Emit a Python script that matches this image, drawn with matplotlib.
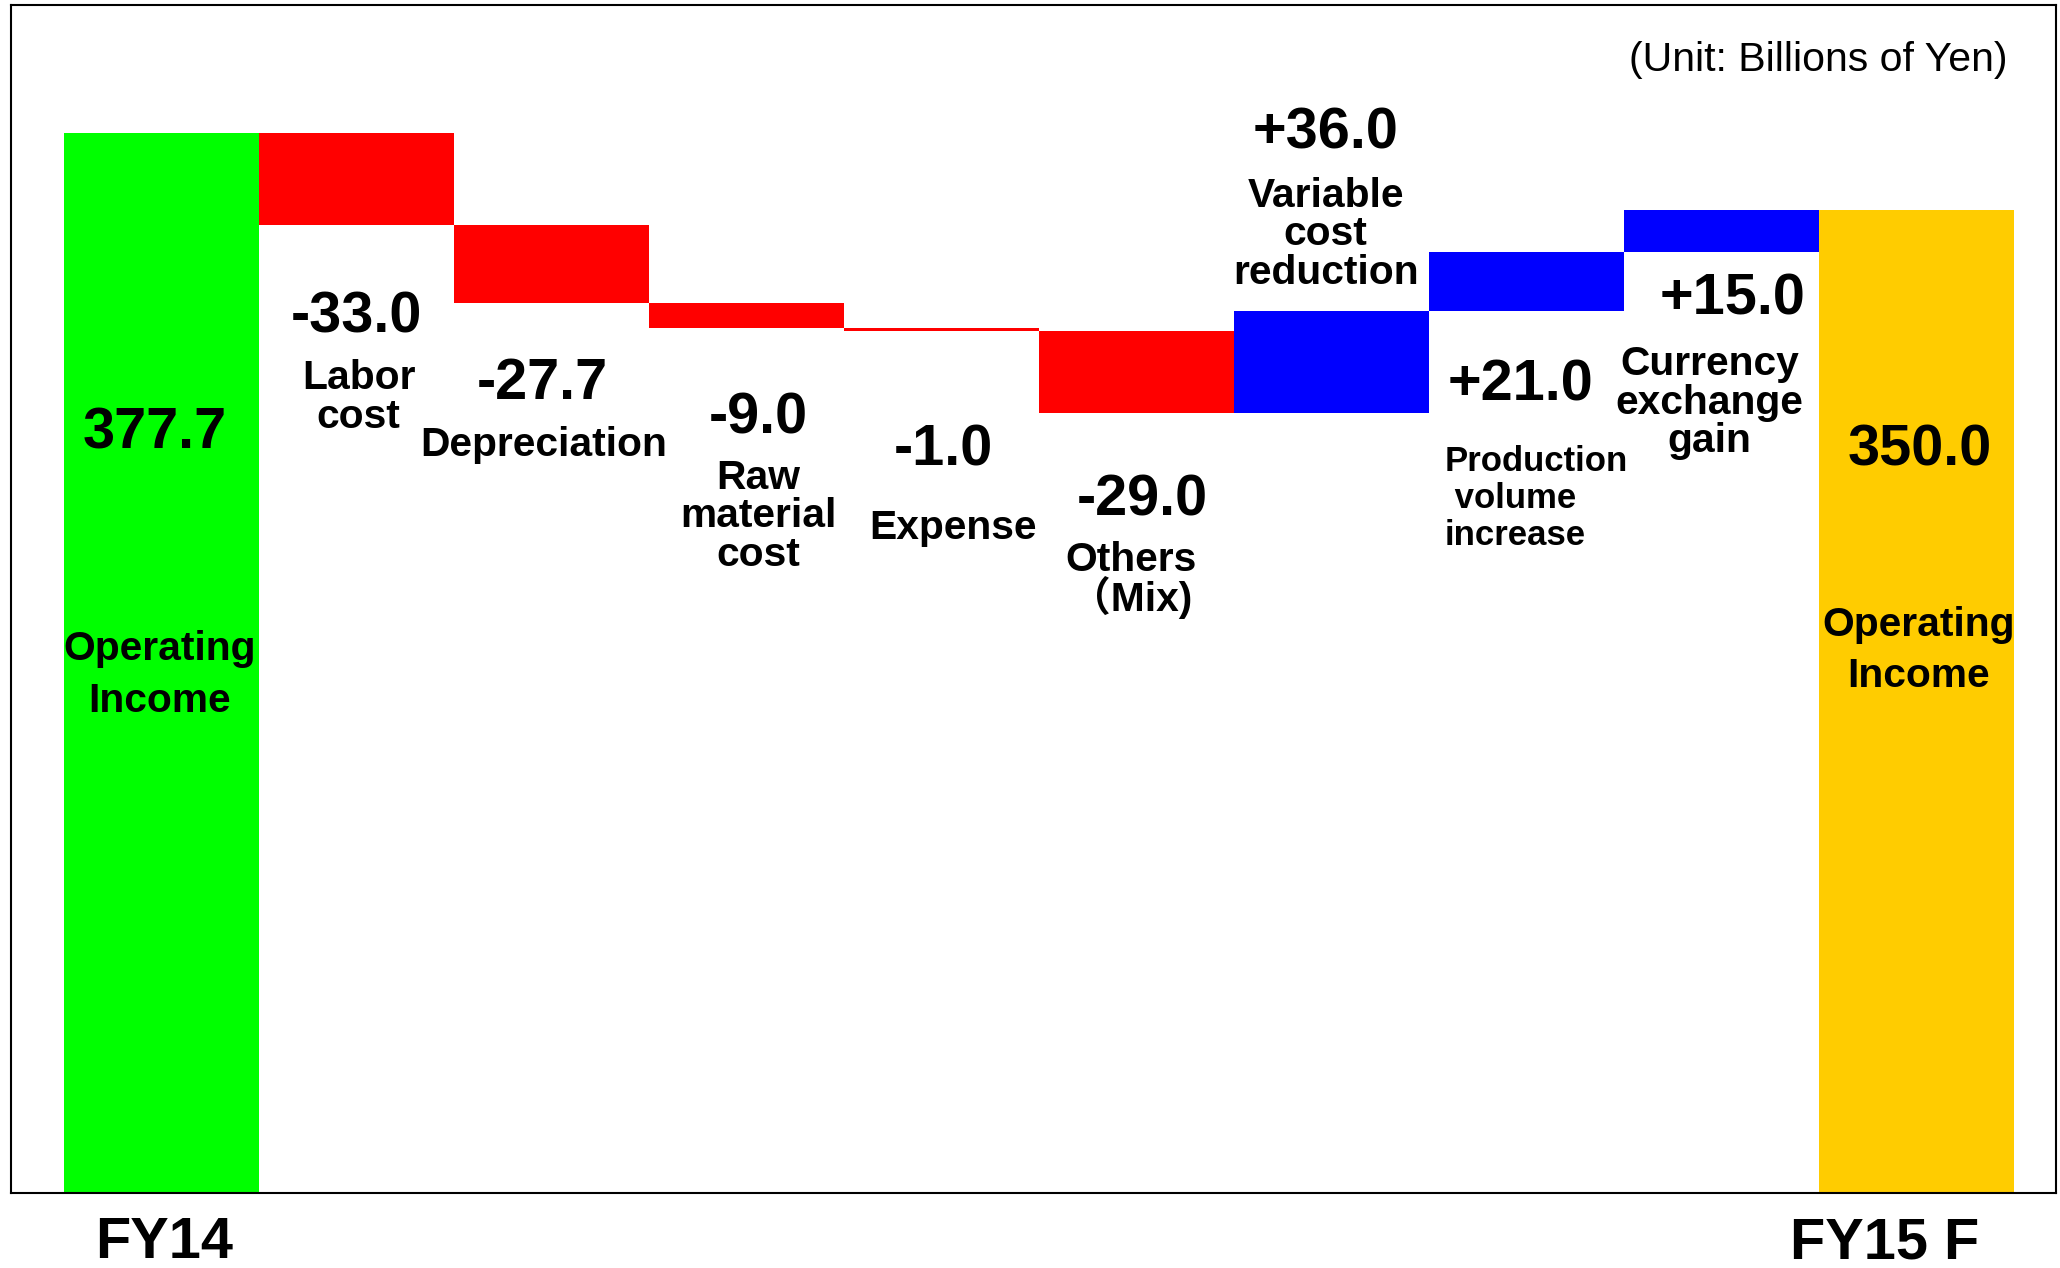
import matplotlib.pyplot as plt
import numpy as np

# Datos
start_label = "FY14"
end_label = "FY15 F"
start_value = 377.7
end_value = 350.0
items = ["Labor\ncost", "Depreciation", "Raw\nmaterial\ncost", "Expense", "Others\n\uff08Mix)",
         "Variable\ncost\nreduction", "Production\n volume\nincrease", "Currency\nexchange\ngain"]
changes = [-33.0, -27.7, -9.0, -1.0, -29.0, 36.0, 21.0, 15.0]

# Colores
c_start = '#00FF00'
c_end = '#FFCC00'
c_down = '#FF0000'
c_up = '#0000FF'

FONT = ['Liberation Sans', 'Noto Sans CJK JP', 'DejaVu Sans']
plt.rcParams['font.family'] = FONT

# Cálculo de la cascada
cum = start_value + np.cumsum(changes)
prev = np.concatenate([[start_value], cum[:-1]])
bottoms = np.minimum(prev, cum)
heights = np.abs(np.array(changes))
colors = [c_down if v < 0 else c_up for v in changes]

fig = plt.figure(figsize=(20.6, 12.68), dpi=100)
ax = fig.add_axes([0.0051, 0.059, 0.9929, 0.9368])

x = np.arange(len(changes) + 2)
ax.bar(x[0], start_value, width=1.0, color=c_start, linewidth=0)
ax.bar(x[1:-1], heights, bottom=bottoms, width=1.0, color=colors, linewidth=0)
ax.bar(x[-1], end_value, width=1.0, color=c_end, linewidth=0)

# Etiquetas de valores (posición: x, y del valor; x, y del nombre)
val_pos = [(1.0, 312.0), (1.95, 288.2), (3.06, 276.0), (4.01, 264.3), (5.03, 246.5),
           (5.97, 377.5), (6.97, 287.5), (8.06, 318.1)]
name_pos = [(1.01, 283.3), (1.96, 266.3), (3.06, 241.0), (4.06, 236.8), (4.97, 218.5),
            (5.97, 341.5), (6.58, 247.5), (7.94, 281.5)]

num_fs = 41.5
lab_fs = 29.3

for i, v in enumerate(changes):
    vx, vy = val_pos[i]
    ax.text(vx, vy, f"{v:+.1f}", ha='center', va='center', fontsize=num_fs, fontweight='bold')
    nx, ny = name_pos[i]
    if i == 6:
        ax.text(nx, ny, items[i], ha='left', va='center', fontsize=25, fontweight='bold',
                linespacing=1.16)
    elif i == 4:
        ax.text(nx, ny, items[i], ha='center', va='center', fontsize=lab_fs, fontweight='bold',
                linespacing=0.92)
    else:
        ax.text(nx, ny, items[i], ha='center', va='center', fontsize=lab_fs, fontweight='bold',
                linespacing=1.02)

# Barras de inicio y fin
ax.text(-0.035, 270.4, f"{start_value:.1f}", ha='center', va='center', fontsize=num_fs, fontweight='bold')
ax.text(-0.01, 184.5, "Operating\nIncome", ha='center', va='center', fontsize=lab_fs,
        fontweight='bold', linespacing=1.44)
ax.text(9.02, 264.3, f"{end_value:.1f}", ha='center', va='center', fontsize=num_fs, fontweight='bold')
ax.text(9.01, 193.2, "Operating\nIncome", ha='center', va='center', fontsize=lab_fs,
        fontweight='bold', linespacing=1.44)

ax.text(9.466, 403.4, "(Unit: Billions of Yen)", ha='right', va='center', fontsize=29.5)

ax.text(0.01, -17.8, start_label, ha='center', va='center', fontsize=41.5, fontweight='bold',
        clip_on=False)
ax.text(8.84, -17.8, end_label, ha='center', va='center', fontsize=41.5, fontweight='bold',
        clip_on=False)

ax.set_xlim(-0.776, 9.716)
ax.set_ylim(0, 423)
ax.set_xticks([])
ax.set_yticks([])
for s in ax.spines.values():
    s.set_linewidth(1.5)
    s.set_color('black')

fig.savefig('out.png', dpi=100)
